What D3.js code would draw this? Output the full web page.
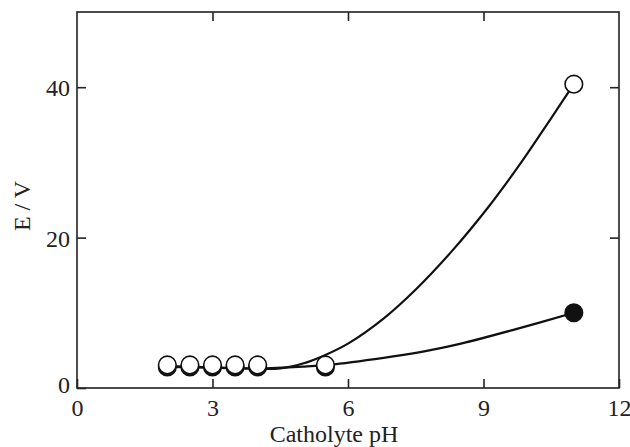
<!DOCTYPE html>
<html><head><meta charset="utf-8">
<script src="https://cdn.jsdelivr.net/npm/d3@7"></script>
<style>body{margin:0;background:#fff}svg{display:block}text{font-family:"Liberation Serif","Times New Roman",serif;fill:#222}</style>
</head><body><svg id="c" width="630" height="447"></svg>
<script>
const xTicks = [0, 3, 6, 9, 12];
const yTicks = [0, 20, 40];
const pH = [2, 2.5, 3, 3.5, 4, 5.5, 11];
const openE = [3.07, 3.07, 3.07, 3.07, 3.07, 3.07, 40.4];
const filledE = [2.8, 2.8, 2.8, 2.8, 2.8, 2.8, 10.0];
// fitted curves
const openCurveX = [2, 3, 4, 4.5, 5, 5.5, 6, 6.8, 7.5, 8.3, 9.1, 9.8, 10.5, 11];
const openCurveY = [2.9, 2.75, 2.55, 2.6, 3.25, 4.4, 5.9, 9.3, 13.1, 18.2, 24.0, 29.7, 35.9, 40.4];
const filledCurveX = [2, 3, 4, 5, 5.7, 7, 7.8, 8.5, 9.7, 11];
const filledCurveY = [2.8, 2.7, 2.6, 2.85, 3.15, 4.2, 5.0, 5.9, 7.8, 10.0];

const svg = d3.select("#c");
const L = 77, R = 619, T = 12, B = 388;
const x = d3.scaleLinear().domain([0, 12]).range([L, R]);
const y = d3.scaleLinear().domain([0, 50]).range([B, T]);
const tk = 9;
const FS = "24px";

const g = svg.append("g");
g.append("rect").attr("x", L).attr("y", T).attr("width", R - L).attr("height", B - T)
  .attr("fill", "none").attr("stroke", "#222").attr("stroke-width", 1.6);

const ax = g.append("g").attr("transform", `translate(0,${B})`)
  .call(d3.axisBottom(x).tickValues(xTicks).tickSize(-tk).tickPadding(11).tickFormat(d3.format("d")));
const at = g.append("g").attr("transform", `translate(0,${T})`)
  .call(d3.axisTop(x).tickValues(xTicks.slice(1, -1)).tickSize(-tk).tickFormat(""));
const ay = g.append("g").attr("transform", `translate(${L},0)`)
  .call(d3.axisLeft(y).tickValues(yTicks).tickSize(-tk).tickPadding(7).tickFormat(d3.format("d")));
const ar = g.append("g").attr("transform", `translate(${R},0)`)
  .call(d3.axisRight(y).tickValues(yTicks.slice(1)).tickSize(-tk).tickFormat(""));
[ax, at, ay, ar].forEach(a => {
  a.attr("font-family", null).attr("font-size", null);
  a.select(".domain").remove();
  a.selectAll("line").attr("stroke", "#222").attr("stroke-width", 1.6);
  a.selectAll("text").style("font-family", '"Liberation Serif",serif').style("font-size", FS).attr("fill", "#222");
});
ax.selectAll("text").attr("dy", "0.71em").attr("y", 11);
ay.selectAll("text").attr("dy", "0.35em");
ay.selectAll(".tick").filter(d => d === 0).select("text").attr("dy", "0.2em");

const line = d3.line().x(d => x(d[0])).y(d => y(d[1])).curve(d3.curveBasis);
const line2 = d3.line().x(d => x(d[0])).y(d => y(d[1])).curve(d3.curveCatmullRom.alpha(0.5));
g.append("path").datum(d3.zip(filledCurveX, filledCurveY)).attr("d", line2)
  .attr("fill", "none").attr("stroke", "#111").attr("stroke-width", 2.2);
g.append("path").datum(d3.zip(openCurveX, openCurveY)).attr("d", line2)
  .attr("fill", "none").attr("stroke", "#111").attr("stroke-width", 2.2);

const r = 8.8;
g.selectAll("circle.f").data(d3.zip(pH, filledE)).join("circle").attr("class", "f")
  .attr("cx", d => x(d[0])).attr("cy", d => y(d[1])).attr("r", r)
  .attr("fill", "#111").attr("stroke", "#111").attr("stroke-width", 1.5);
g.selectAll("circle.o").data(d3.zip(pH, openE)).join("circle").attr("class", "o")
  .attr("cx", d => x(d[0])).attr("cy", d => y(d[1])).attr("r", r)
  .attr("fill", "#fff").attr("stroke", "#111").attr("stroke-width", 1.6);

g.append("text").attr("x", 334).attr("y", 442).attr("text-anchor", "middle")
  .style("font-size", FS).text("Catholyte pH");
g.append("text").attr("transform", "translate(30,206) rotate(-90)").attr("text-anchor", "middle")
  .style("font-size", FS).text("E / V");
</script></body></html>
